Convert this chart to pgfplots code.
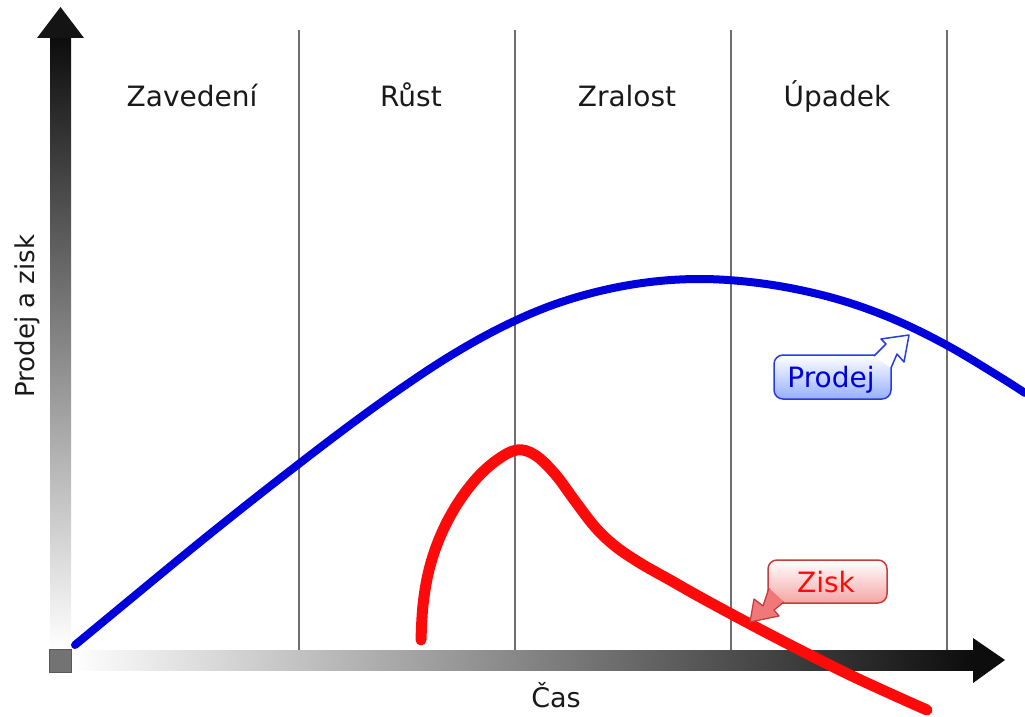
\documentclass[border=0pt]{standalone}
\usepackage{pgfplots}
\pgfplotsset{compat=1.18}
\usepackage{fontspec}
\setmainfont{DejaVu Sans}
\definecolor{cblue}{RGB}{0,0,221}
\definecolor{cred}{RGB}{255,10,10}
\definecolor{vline}{RGB}{110,110,110}
\definecolor{pbord}{RGB}{40,60,230}
\definecolor{pfill}{RGB}{150,175,255}
\definecolor{zbord}{RGB}{200,60,60}
\definecolor{zfill}{RGB}{245,165,165}
\definecolor{zarrow}{RGB}{240,120,120}
\begin{document}
\begin{tikzpicture}
\begin{axis}[
  width=1025pt, height=717pt, scale only axis,
  xmin=0, xmax=1025, ymin=0, ymax=717, y dir=reverse,
  hide axis, clip=true,
]
\path (0,0) rectangle (1025,717);
% phase separators
\foreach \xx in {299,515,731,947}{
  \edef\temp{\noexpand\draw[vline, line width=1.3pt] (\xx,30) -- (\xx,650);}
  \temp
}
% axes
\shade[top color=black!95, bottom color=white] (50,38) rectangle (71,649);
\fill[black!92] (37,38) -- (60.5,7) -- (84,38) -- cycle;
\shade[left color=white, right color=black!95] (71,650) rectangle (973,670);
\fill[black!95] (973,638) -- (1005,660) -- (973,683) -- cycle;
\fill[black!55, draw=black!65] (49,649) rectangle (71,672);
% sales
\addplot[cblue, line width=8pt, line cap=round, smooth, tension=0.6] coordinates {
(75,645) (150,583) (200,542) (250,502) (300,463) (350,425) (400,389) (450,356)
(500,328) (550,306) (600,291) (650,282) (700,279) (750,282) (800,290) (850,303)
(900,322) (950,347) (1000,377) (1025,393)};
% profit
\addplot[cred, line width=11pt, line cap=round, smooth, tension=0.6] coordinates {
(421,640) (423,605) (429,570) (440,537) (456,506) (476,479) (497,460) (517,450)
(535,455) (555,474) (575,501) (595,527) (615,546) (640,563) (670,580)
(700,597) (750,624) (800,650) (850,675) (900,698) (927,710)};
% labels
\node[anchor=base, font=\fontsize{28}{32}\selectfont, text=black!90] at (192,106) {Zavedení};
\node[anchor=base, font=\fontsize{28}{32}\selectfont, text=black!90] at (411,106) {Růst};
\node[anchor=base, font=\fontsize{28}{32}\selectfont, text=black!90] at (627,106) {Zralost};
\node[anchor=base, font=\fontsize{28}{32}\selectfont, text=black!90] at (837,106) {Úpadek};
\node[anchor=base, font=\fontsize{27}{32}\selectfont, text=black!90] at (556,707) {Čas};
\node[anchor=base, rotate=90, font=\fontsize{26}{30}\selectfont, text=black!90] at (34,316) {Prodej a zisk};
% Prodej callout
\shade[top color=white, middle color=white, bottom color=pfill, draw=pbord, line width=1.5pt, rounded corners=9pt] (774,355) rectangle (891,399);
\fill[white] (874,356) -- (886,344) -- (881,339) -- (909,335) -- (904,362) -- (897,354) -- (891,368) -- cycle;
\draw[pbord, line width=1.5pt, line join=round] (874,356) -- (886,344) -- (881,339) -- (909,335) -- (904,362) -- (897,354) -- (891,368);
\node[anchor=base, font=\fontsize{28}{32}\selectfont, text=cblue] at (831,387) {Prodej};
% Zisk callout
\shade[top color=white, middle color=white, bottom color=zfill, draw=zbord, line width=1.5pt, rounded corners=9pt] (768,560) rectangle (887,603);
\fill[zarrow] (784,602) -- (774,610) -- (779,616) -- (750,622) -- (754,599) -- (763,606) -- (769,588) -- cycle;
\draw[zbord, line width=1.3pt, line join=round] (784,602) -- (774,610) -- (779,616) -- (750,622) -- (754,599) -- (763,606) -- (769,588);
\node[anchor=base, font=\fontsize{28}{32}\selectfont, text=cred] at (826,592) {Zisk};
\end{axis}
\end{tikzpicture}
\end{document}
